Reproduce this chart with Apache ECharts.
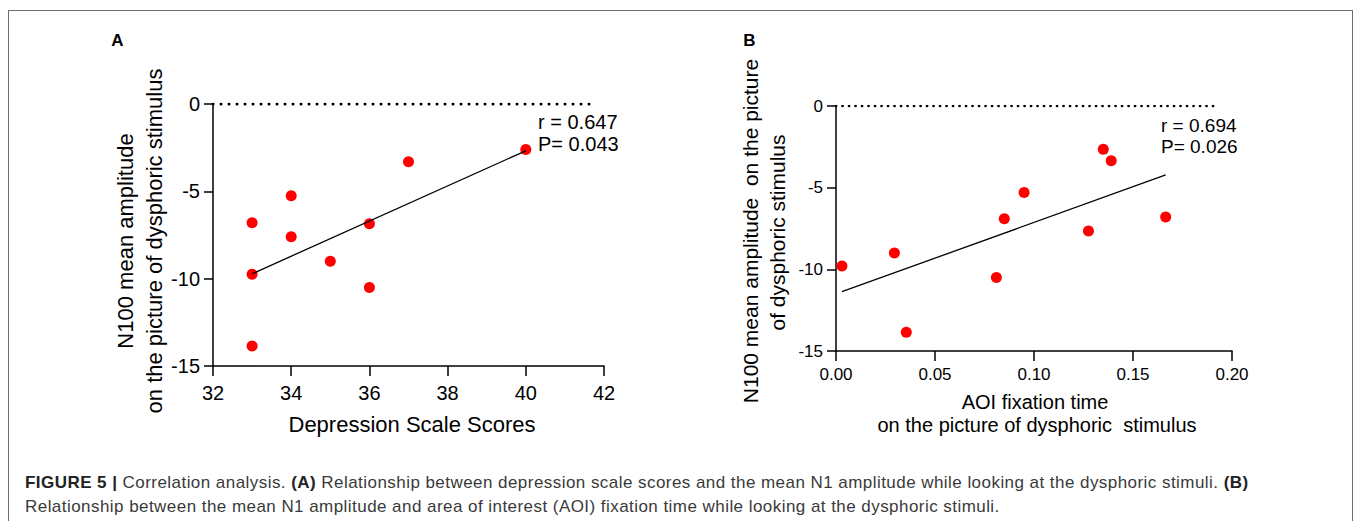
<!DOCTYPE html>
<html>
<head>
<meta charset="utf-8">
<script src="https://cdn.jsdelivr.net/npm/echarts@6/dist/echarts.min.js"></script>
<style>
  html, body { margin: 0; padding: 0; background: #fff; }
  #wrap { position: relative; width: 1357px; height: 521px; overflow: hidden; }
  #frame { position: absolute; left: 8px; top: 10px; width: 1345px; height: 530px;
           border: 1.5px solid #6e6e6e; box-sizing: border-box; }
  #chart { position: absolute; left: 0; top: 0; width: 1357px; height: 521px; }
  #caption { position: absolute; left: 25px; top: 471px; font-family: 'Liberation Sans', Arial, sans-serif;
             font-size: 17px; letter-spacing: 0.45px; line-height: 24px; color: #3a3a3a; white-space: nowrap; }
  #caption b { color: #222; }
</style>
</head>
<body>
<div id="wrap">
  <div id="frame"></div>
  <div id="chart"></div>
  <div id="caption"><b>FIGURE 5 |</b> Correlation analysis. <b>(A)</b> Relationship between depression scale scores and the mean N1 amplitude while looking at the dysphoric stimuli. <b>(B)</b><br>Relationship between the mean N1 amplitude and area of interest (AOI) fixation time while looking at the dysphoric stimuli.</div>
</div>
<script>
// panel A: depression score vs N100 amplitude
const depressionScores = [33, 33, 33, 34, 34, 35, 36, 36, 37, 40];
const n100A = [-6.8, -9.75, -13.85, -5.25, -7.6, -9.0, -6.85, -10.5, -3.3, -2.6];
const fitA = [[33, -9.72], [40, -2.68]];
const zeroA = [[32, 0], [41.8, 0]];
const ticksA = { xMin: 32, xMax: 42, xStep: 2, yMin: -15, yMax: 0, yStep: 5 };
const statsA = ['r = 0.647', 'P= 0.043'];

// panel B: AOI fixation time vs N100 amplitude
const aoiTime = [0.003, 0.0295, 0.0355, 0.081, 0.085, 0.095, 0.1275, 0.135, 0.139, 0.1665];
const n100B = [-9.8, -9.0, -13.85, -10.5, -6.9, -5.3, -7.65, -2.65, -3.35, -6.8];
const fitB = [[0.003, -11.37], [0.1665, -4.22]];
const zeroB = [[0, 0], [0.192, 0]];
const ticksB = { xMin: 0, xMax: 0.2, xStep: 0.05, yMin: -15, yMax: 0, yStep: 5 };
const statsB = ['r = 0.694', 'P= 0.026'];

const font = "'Liberation Sans', Arial, sans-serif";
const chart = echarts.init(document.getElementById('chart'), null, { renderer: 'svg' });

function axisX(idx, t, fs, fmt) {
  return {
    type: 'value', gridIndex: idx, min: t.xMin, max: t.xMax, interval: t.xStep,
    axisLine: { onZero: false, lineStyle: { color: '#000', width: 1.5 } },
    axisTick: { length: 10, lineStyle: { color: '#000', width: 1.5 } },
    axisLabel: { color: '#000', fontSize: fs, fontFamily: font, margin: idx === 0 ? 17 : 15, formatter: fmt },
    splitLine: { show: false }
  };
}
function axisY(idx, t, fs) {
  return {
    type: 'value', gridIndex: idx, min: t.yMin, max: t.yMax, interval: t.yStep,
    axisLine: { onZero: false, lineStyle: { color: '#000', width: 1.5 } },
    axisTick: { length: 9, lineStyle: { color: '#000', width: 1.5 } },
    axisLabel: { color: '#000', fontSize: fs, fontFamily: font, margin: 13 },
    splitLine: { show: false }
  };
}
function txt(x, y, text, size, opts) {
  return Object.assign({
    type: 'text', x: x, y: y,
    style: { text: text, fill: '#000', font: size + 'px ' + font, align: 'center', verticalAlign: 'middle' }
  }, opts || {});
}
function stat(x, y, text, size) {
  return txt(x, y, text, size, { style: { text: text, fill: '#000', font: size + 'px ' + font, align: 'left', verticalAlign: 'middle' } });
}
function panelLabel(x, y, text) {
  return txt(x, y, text, 17, { style: { text: text, fill: '#000', font: 'bold 17px ' + font, align: 'center', verticalAlign: 'middle' } });
}

const option = {
  animation: false,
  grid: [
    { left: 213, top: 104, width: 391, height: 262 },
    { left: 836, top: 106, width: 396, height: 245 }
  ],
  xAxis: [
    axisX(0, ticksA, 20),
    axisX(1, ticksB, 17, v => v.toFixed(2))
  ],
  yAxis: [
    axisY(0, ticksA, 20),
    axisY(1, ticksB, 17)
  ],
  series: [
    { type: 'line', xAxisIndex: 0, yAxisIndex: 0, data: zeroA, symbol: 'none', silent: true,
      lineStyle: { color: '#000', width: 3, type: [0.1, 7.9], cap: 'round' } },
    { type: 'line', xAxisIndex: 0, yAxisIndex: 0, data: fitA, symbol: 'none', silent: true,
      lineStyle: { color: '#000', width: 1.3 } },
    { type: 'scatter', xAxisIndex: 0, yAxisIndex: 0, symbolSize: 11, itemStyle: { color: '#ff0000', opacity: 1 },
      data: depressionScores.map((v, i) => [v, n100A[i]]) },
    { type: 'line', xAxisIndex: 1, yAxisIndex: 1, data: zeroB, symbol: 'none', silent: true,
      lineStyle: { color: '#000', width: 2.7, type: [0.1, 6.4], cap: 'round' } },
    { type: 'line', xAxisIndex: 1, yAxisIndex: 1, data: fitB, symbol: 'none', silent: true,
      lineStyle: { color: '#000', width: 1.3 } },
    { type: 'scatter', xAxisIndex: 1, yAxisIndex: 1, symbolSize: 11, itemStyle: { color: '#ff0000', opacity: 1 },
      data: aoiTime.map((v, i) => [v, n100B[i]]) }
  ],
  graphic: [
    panelLabel(117.5, 40, 'A'),
    panelLabel(749.5, 40, 'B'),
    // panel A titles
    txt(125, 241, 'N100 mean amplitude', 22, { rotation: Math.PI / 2 }),
    txt(154, 241, 'on the picture of dysphoric stimulus', 22, { rotation: Math.PI / 2 }),
    txt(412, 424, 'Depression Scale Scores', 22),
    stat(538, 122, statsA[0], 20),
    stat(538, 143.5, statsA[1], 20),
    // panel B titles
    txt(750.5, 231, 'N100 mean amplitude  on the picture', 21, { rotation: Math.PI / 2 }),
    txt(777.5, 232.5, 'of dysphoric stimulus', 21, { rotation: Math.PI / 2 }),
    txt(1035, 402, 'AOI fixation time', 20),
    txt(1037, 424.5, 'on the picture of dysphoric  stimulus', 20),
    stat(1161, 125, statsB[0], 19),
    stat(1161, 146.5, statsB[1], 19)
  ]
};
chart.setOption(option);
</script>
</body>
</html>
